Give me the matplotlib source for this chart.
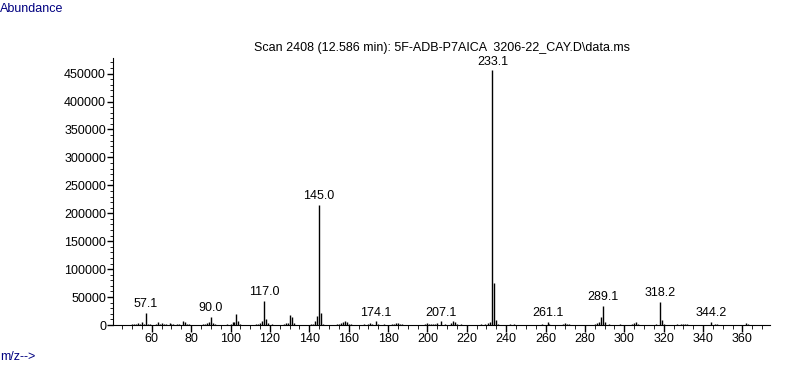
import matplotlib
matplotlib.use("Agg")
import matplotlib.pyplot as plt
from matplotlib.ticker import MultipleLocator

plt.rcParams['font.family'] = ['Liberation Sans', 'DejaVu Sans']

# m/z and abundance
mz = [50, 51, 52, 53, 54, 55, 56, 57, 58, 59,
      62, 63, 64, 65, 66, 67, 69, 70, 71, 73, 74, 76, 77, 78, 79,
      86, 87, 88, 89, 90, 91, 92, 98, 100, 101, 102, 103, 104, 105,
      113, 114, 115, 116, 117, 118, 119, 121, 127, 128, 129, 130, 131, 132,
      141, 142, 143, 144, 145, 146, 147,
      154, 155, 156, 157, 158, 159, 160, 161,
      168, 170, 171, 172, 174, 175, 178, 182, 183, 184, 185, 186, 187,
      199, 200, 201, 202, 203, 204, 205, 207, 209, 212, 213, 214, 215, 217,
      227, 229, 231, 232, 233, 234, 235, 236, 242, 244,
      258, 261, 262, 269, 270, 271, 272,
      285, 286, 287, 288, 289, 290, 292, 298,
      304, 305, 306, 307, 316, 318, 319, 320,
      327, 329, 330, 331, 332, 344, 346, 347, 362, 363]
abundance = [1500, 2500, 2000, 3500, 2000, 5000, 2000, 22000, 2000, 1000,
             1500, 4500, 2000, 3000, 1500, 2500, 4000, 1500, 2000, 1500, 2000, 7000, 5000, 2500, 1500,
             2000, 1500, 3000, 6000, 14000, 4000, 1500, 1500, 2000, 5000, 6000, 19500, 8000, 1500,
             1500, 2000, 3000, 7000, 43000, 10000, 4000, 1500, 1500, 3000, 4000, 18000, 14000, 4000,
             1500, 2000, 7000, 16000, 215000, 22000, 2000,
             1500, 2000, 4000, 6000, 8000, 5000, 2000, 1500,
             1500, 2500, 3000, 2000, 6500, 2000, 1500, 2000, 2500, 3000, 4000, 2500, 1500,
             2000, 3000, 2000, 1500, 2500, 2000, 3000, 6500, 2000, 3000, 7000, 4500, 2000, 1500,
             2000, 1500, 3000, 5000, 456000, 76000, 9000, 2000, 1500, 1500,
             1500, 5000, 1500, 2500, 3500, 2500, 2000,
             2000, 4000, 5000, 14000, 34000, 5000, 1500, 2000,
             2500, 3500, 5000, 2000, 1500, 41000, 9000, 2500,
             1500, 2000, 2500, 2000, 1500, 5000, 2500, 2000, 3500, 2000]

label_mz = [57.1, 90.0, 117.0, 145.0, 174.1, 207.1, 233.1, 261.1, 289.1, 318.2, 344.2]

fig = plt.figure(figsize=(7.87, 3.67), dpi=100)
ax = fig.add_axes([113 / 787, 42 / 367, 657 / 787, 267 / 367])

ax.vlines(mz, 0, abundance, colors='black', linewidth=1)

# peak labels
for lm in label_mz:
    i = mz.index(round(lm))
    ax.annotate(f"{lm:.1f}", (round(lm), abundance[i]), xytext=(0, 2),
                textcoords='offset points', ha='center', va='bottom', fontsize=9)

ax.set_xlim(40.3, 374)
ax.set_ylim(0, 478000)
ax.xaxis.set_major_locator(MultipleLocator(20))
ax.xaxis.set_minor_locator(MultipleLocator(5))
ax.yaxis.set_major_locator(MultipleLocator(50000))
ax.yaxis.set_minor_locator(MultipleLocator(10000))
ax.set_xticks(range(60, 361, 20))
ax.tick_params(axis='both', which='major', labelsize=9, width=1, color='black')
ax.tick_params(axis='x', which='major', length=5, direction='out', pad=1)
ax.tick_params(axis='x', which='minor', length=3, direction='out')
ax.tick_params(axis='y', which='major', length=4, pad=1)
ax.tick_params(axis='y', which='minor', length=2)
ax.spines['top'].set_visible(False)
ax.spines['right'].set_visible(False)

ax.set_title("Scan 2408 (12.586 min): 5F-ADB-P7AICA  3206-22_CAY.D\\data.ms",
             fontsize=9, pad=5, x=0.5)
fig.text(0.0, 1 - 9 / 367, "Abundance", color='#000080', fontsize=9, va='center', ha='left')
fig.text(0.0, 1 - 357 / 367, "m/z-->", color='#000080', fontsize=9, va='center', ha='left')

fig.savefig("out.png", dpi=100)
